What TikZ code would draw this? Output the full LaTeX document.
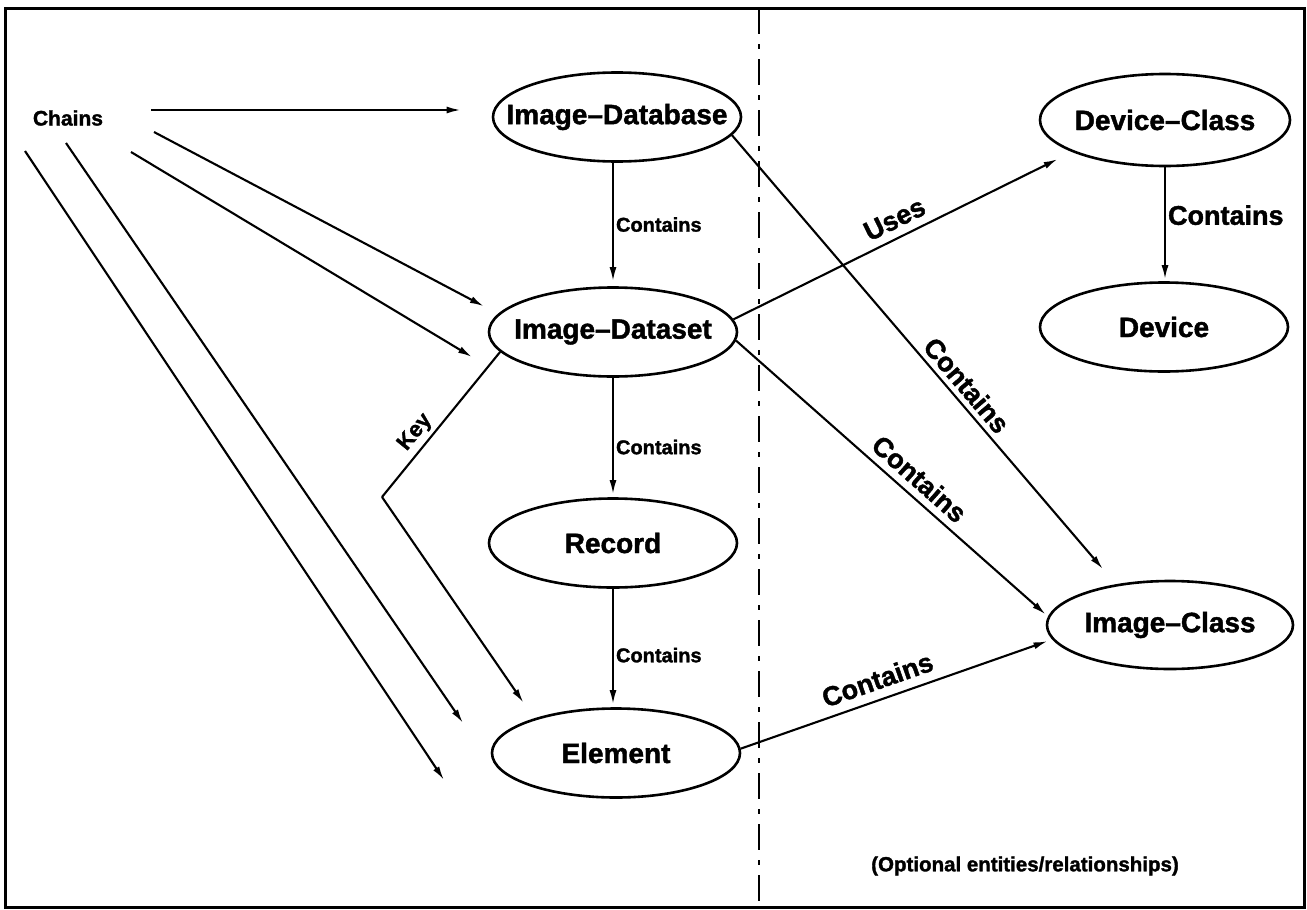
\documentclass[tikz,border=0pt]{standalone}
\usepackage{fontspec}
\setmainfont{Liberation Sans}[BoldFeatures={FakeBold=1.5}]
\usetikzlibrary{shapes.geometric,arrows.meta}
% zero-width box so that the text does not widen the ellipse
\newcommand\ctext[1]{\makebox[0pt][c]{#1}}
\begin{document}
\begin{tikzpicture}[x=1pt,y=-1pt,
  ent/.style={ellipse, draw, line width=2.6pt, minimum width=248pt, minimum height=89pt,
    inner sep=0pt, font=\fontsize{28}{30}\selectfont\bfseries},
  lab/.style={font=\fontsize{20}{22}\selectfont\bfseries, inner sep=2pt},
  biglab/.style={font=\fontsize{27}{29}\selectfont\bfseries, inner sep=5pt},
  keylab/.style={font=\fontsize{22}{24}\selectfont\bfseries, inner sep=4pt},
  link/.style={line width=2.1pt},
  arr/.style={line width=2.1pt, -{Latex[length=14pt,width=7pt]}},
  divider/.style={line width=2.8pt, dash pattern=on 26pt off 10pt on 5pt off 10pt}]
\useasboundingbox (0,0) rectangle (1307,910);

% outer frame and divider between core and optional parts
\draw[line width=3pt] (5,8) rectangle (1304,907);
\draw[divider] (759,8) -- (759,907);

% entities
\node[ent] (db) at (617,117) {\ctext{Image–Database}};
\node[ent] (ds) at (613,332) {\ctext{Image–Dataset}};
\node[ent] (rec) at (613,543) {\ctext{Record}};
\node[ent] (el) at (616,753) {\ctext{Element}};
\node[ent, minimum width=250pt, minimum height=92pt] (dc) at (1165,120) {\ctext{Device–Class}};
\node[ent] (dev) at (1164,327) {\ctext{Device}};
\node[ent, minimum width=246pt, minimum height=88pt] (ic) at (1170,625) {\ctext{Image–Class}};
\node[lab, font=\fontsize{21}{23}\selectfont\bfseries] (chains) at (68,118) {Chains};
\node[lab, font=\fontsize{20.5}{22}\selectfont\bfseries] (opt) at (1025,866) {(Optional entities/relationships)};

% chain start and end points
\coordinate (c1) at (151,110);
\coordinate (c2) at (154,132);
\coordinate (c3) at (131,152);
\coordinate (c4) at (66,143);
\coordinate (c5) at (25,151);
\coordinate (t3) at (472,357);
\coordinate (t4) at (463,723);
\coordinate (t5) at (444,780);
\coordinate (keybend) at (382,497);

% chains
\draw[arr, shorten >=31pt] (c1) -- (c1 -| db.west);
\draw[arr, shorten >=16pt] (c2) -- (ds.171);
\draw[arr] (c3) -- (t3);
\draw[arr] (c4) -- (t4);
\draw[arr] (c5) -- (t5);

% containment hierarchy
\draw[arr, shorten >=5pt] (db.south -| ds.north) -- (ds.north)
  node[lab, pos=.5, anchor=west] {Contains};
\draw[arr, shorten >=3pt] (ds.south) -- (ds.south |- rec.north)
  node[lab, pos=.58, anchor=west] {Contains};
\draw[arr, shorten >=3pt] (rec.south) -- (rec.south |- el.north)
  node[lab, pos=.56, anchor=west] {Contains};
\draw[arr, shorten >=2pt] (dc.south) -- (dc.south |- dev.north)
  node[biglab, pos=.42, anchor=west, inner sep=2pt] {Contains};

% key
\draw[link] (ds.190) -- (keybend) node[keylab, sloped, above, pos=.62] {Key};
\draw[arr, shorten >=19pt] (keybend) -- (el.157);

% optional relationships
\draw[arr, shorten >=16pt] (ds.6) -- (dc.199) node[biglab, sloped, above, pos=.5, inner sep=8pt] {Uses};
\draw[arr, shorten >=20pt] (db.-9) -- (ic.143) node[biglab, sloped, above, pos=.58] {Contains};
\draw[arr, shorten >=3pt] (ds.-4) -- (ic.176) node[biglab, sloped, above, pos=.55, inner sep=7pt] {Contains};
\draw[arr, shorten >=5pt] (el.2) -- (ic.187) node[biglab, sloped, above, pos=.46, inner sep=9pt] {Contains};
\end{tikzpicture}
\end{document}
